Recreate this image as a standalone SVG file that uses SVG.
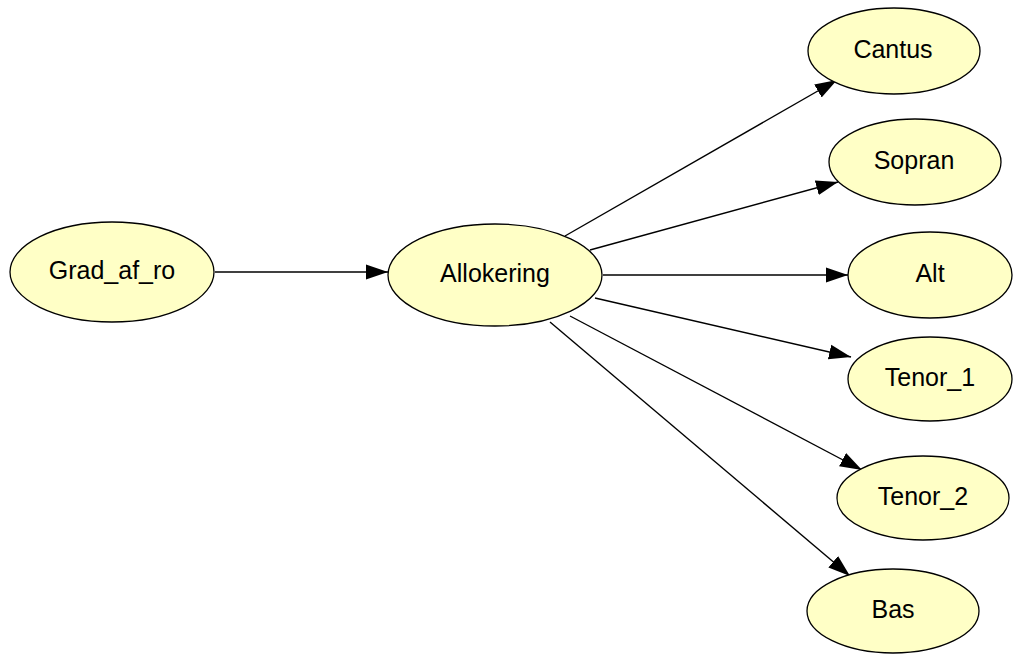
<svg xmlns="http://www.w3.org/2000/svg" width="1015" height="655" viewBox="0 0 1015 655">
<style>
.node ellipse{fill:#ffffc6;stroke:#000;stroke-width:1.3}
.node text{font-family:"Liberation Sans",Arial,sans-serif;font-size:25px;fill:#000;text-anchor:middle}
.edge{stroke:#000;stroke-width:1.4;fill:none;marker-end:url(#arr)}
</style>
<defs>
<marker id="arr" markerUnits="userSpaceOnUse" markerWidth="24" markerHeight="16" refX="22" refY="8" orient="auto">
<path d="M0,0.5 L22,8 L0,15.5 Z" fill="#000"/>
</marker>
</defs>
<rect width="1015" height="655" fill="#fff"/>
<g id="connectors">
<line class="edge" x1="215" y1="272" x2="388" y2="272"/>
<line class="edge" x1="565" y1="236" x2="837" y2="80"/>
<line class="edge" x1="590" y1="250" x2="838" y2="182"/>
<line class="edge" x1="603" y1="275" x2="848" y2="275"/>
<line class="edge" x1="595" y1="298" x2="851" y2="357"/>
<line class="edge" x1="570" y1="316" x2="862" y2="470"/>
<line class="edge" x1="550" y1="322" x2="850" y2="576"/>
</g>
<g id="Grad_af_ro" class="node"><ellipse cx="112" cy="272" rx="102" ry="50"/><text x="112" y="279">Grad_af_ro</text></g>
<g id="Allokering" class="node"><ellipse cx="495" cy="275" rx="107" ry="51"/><text x="495" y="282">Allokering</text></g>
<g id="Cantus" class="node"><ellipse cx="894" cy="51" rx="86" ry="43"/><text x="893" y="58">Cantus</text></g>
<g id="Sopran" class="node"><ellipse cx="915" cy="162" rx="86" ry="43"/><text x="914" y="169">Sopran</text></g>
<g id="Alt" class="node"><ellipse cx="930" cy="275" rx="82" ry="43"/><text x="930" y="282">Alt</text></g>
<g id="Tenor_1" class="node"><ellipse cx="930" cy="379" rx="82" ry="42"/><text x="930" y="386">Tenor_1</text></g>
<g id="Tenor_2" class="node"><ellipse cx="923" cy="498" rx="86" ry="42"/><text x="923" y="505">Tenor_2</text></g>
<g id="Bas" class="node"><ellipse cx="893" cy="611" rx="86" ry="42"/><text x="893" y="618">Bas</text></g>
</svg>
